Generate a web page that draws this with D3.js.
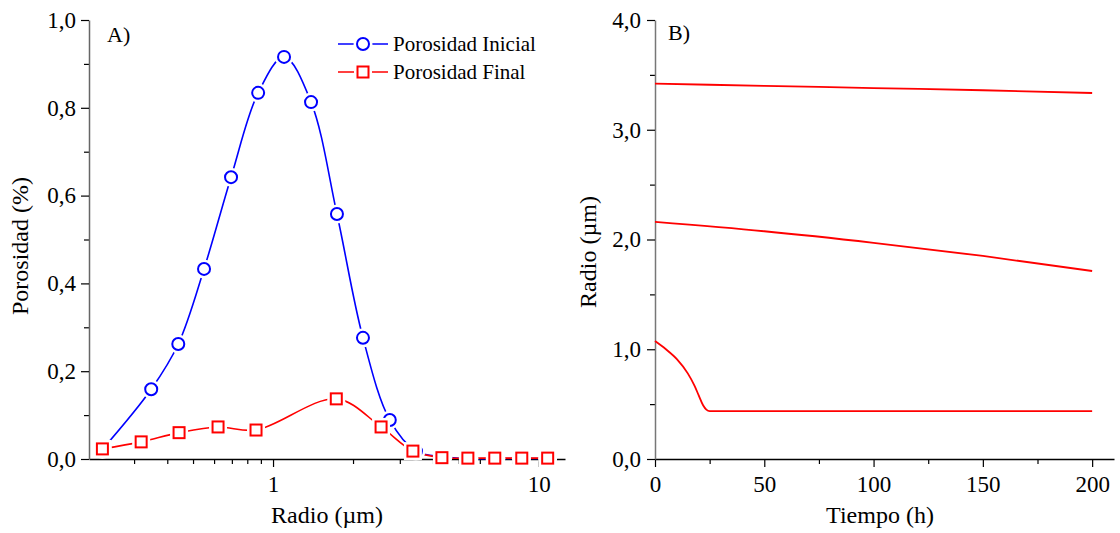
<!DOCTYPE html>
<html>
<head>
<meta charset="utf-8">
<script src="https://cdn.jsdelivr.net/npm/d3@7"></script>
<style>
  body { margin: 0; background: #fff; }
  svg { display: block; font-family: "Liberation Serif", "Times New Roman", serif; }
</style>
</head>
<body>
<svg id="chart" width="1120" height="533"></svg>
<script>
// ---- datos panel A (porosidad vs radio) ----
const radioIni = [0.228, 0.348, 0.44, 0.55, 0.695, 0.879, 1.1, 1.39, 1.74, 2.18, 2.75, 3.45, 4.36, 5.46, 6.9, 8.6, 10.8];
const porIni   = [0.022, 0.159, 0.262, 0.433, 0.642, 0.834, 0.916, 0.813, 0.558, 0.276, 0.089, 0.018, 0.005, 0.001, 0.001, 0.001, 0.001];
const radioFin = [0.228, 0.319, 0.443, 0.621, 0.863, 1.73, 2.55, 3.36, 4.32, 5.41, 6.83, 8.63, 10.8];
const porFin   = [0.023, 0.039, 0.060, 0.073, 0.066, 0.137, 0.073, 0.018, 0.003, 0.002, 0.002, 0.002, 0.002];
const legendA  = ["Porosidad Inicial", "Porosidad Final"];
const yTicksA  = [0, 0.2, 0.4, 0.6, 0.8, 1.0];
const xTicksA  = [1, 10];

// ---- datos panel B (radio vs tiempo) ----
const tTop = [0, 50, 100, 150, 200];
const rTop = [3.42, 3.40, 3.38, 3.36, 3.335];
const tMid = [0, 50, 100, 150, 200];
const rMid = [2.16, 2.075, 1.97, 1.85, 1.713];
const tBot = [0, 5, 10, 15, 18, 20, 22, 23.5, 25, 200];
const rBot = [1.075, 1.0, 0.91, 0.78, 0.67, 0.58, 0.49, 0.45, 0.437, 0.437];
const yTicksB = [0, 1, 2, 3, 4];
const xTicksB = [0, 50, 100, 150, 200];

const svg = d3.select("#chart");
const fmt = d3.format(".1f");
const coma = d => fmt(d).replace(".", ",");
const BLUE = "#0000ff", RED = "#ff0000";

function estiloEje(g, domColor) {
  g.select(".domain").attr("stroke", domColor).attr("stroke-width", 1.5);
  g.selectAll(".tick line").attr("stroke", "#000").attr("stroke-width", 1.2);
  g.selectAll(".tick text").attr("fill", "#000").style("font-size", "23px")
    .style("font-family", "Liberation Serif");
}

// ================= Panel A =================
const xA = d3.scaleLog().domain([0.203, 12.55]).range([89, 565]);
const yA = d3.scaleLinear().domain([0, 1]).range([459, 20]);

// minor ticks
const minorXA = [];
[0.1, 1].forEach(dec => { for (let k = 2; k <= 9; k++) { const v = dec * k; if (v > 0.203 && v < 12.55) minorXA.push(v); } });
const minorYA = [0.1, 0.3, 0.5, 0.7, 0.9];

svg.append("g").attr("transform", "translate(0,459)")
  .call(d3.axisBottom(xA).tickValues(minorXA).tickSize(5).tickFormat(""))
  .call(g => g.select(".domain").remove())
  .selectAll("line").attr("stroke", "#000").attr("stroke-width", 1.2);
svg.append("g").attr("transform", "translate(89,0)")
  .call(d3.axisLeft(yA).tickValues(minorYA).tickSize(5).tickFormat(""))
  .call(g => g.select(".domain").remove())
  .selectAll("line").attr("stroke", "#000").attr("stroke-width", 1.2);

const gxA = svg.append("g").attr("transform", "translate(0,459)")
  .call(d3.axisBottom(xA).tickValues(xTicksA).tickSize(8).tickSizeOuter(0).tickFormat(d3.format("d")));
estiloEje(gxA, "#000");
gxA.selectAll(".tick text").attr("y", 33).attr("dy", 0);

const gyA = svg.append("g").attr("transform", "translate(89,0)")
  .call(d3.axisLeft(yA).tickValues(yTicksA).tickSize(8).tickSizeOuter(0).tickPadding(5).tickFormat(coma));
estiloEje(gyA, "#666");

// lineas
const curva = d3.curveCatmullRom.alpha(0.5);
const lineA = d3.line().x(d => xA(d[0])).y(d => yA(d[1])).curve(curva);
const serieIni = radioIni.map((r, i) => [r, porIni[i]]);
const serieFin = radioFin.map((r, i) => [r, porFin[i]]);

svg.append("path").datum(serieIni).attr("d", lineA)
  .attr("fill", "none").attr("stroke", BLUE).attr("stroke-width", 1.6);
svg.append("path").datum(serieFin).attr("d", lineA)
  .attr("fill", "none").attr("stroke", RED).attr("stroke-width", 1.6);

// marcadores con halo blanco (huecos en la linea como en Origin)
function circulos(g, datos, x, y) {
  g.selectAll(null).data(datos).enter().append("circle")
    .attr("cx", d => x(d[0])).attr("cy", d => y(d[1])).attr("r", 9.5).attr("fill", "#fff");
  g.selectAll(null).data(datos).enter().append("circle")
    .attr("cx", d => x(d[0])).attr("cy", d => y(d[1])).attr("r", 6)
    .attr("fill", "none").attr("stroke", BLUE).attr("stroke-width", 2);
}
function cuadrados(g, datos, x, y) {
  g.selectAll(null).data(datos).enter().append("rect")
    .attr("x", d => x(d[0]) - 9).attr("y", d => y(d[1]) - 9)
    .attr("width", 18).attr("height", 18).attr("fill", "#fff");
  g.selectAll(null).data(datos).enter().append("rect")
    .attr("x", d => x(d[0]) - 5.5).attr("y", d => y(d[1]) - 5.5)
    .attr("width", 11).attr("height", 11)
    .attr("fill", "none").attr("stroke", RED).attr("stroke-width", 2);
}
circulos(svg.append("g"), serieIni, xA, yA);
cuadrados(svg.append("g"), serieFin, xA, yA);

// leyenda
const leg = svg.append("g");
[0, 1].forEach(i => {
  const ly = 44 + i * 28;
  const col = i === 0 ? BLUE : RED;
  leg.append("line").attr("x1", 338).attr("x2", 388).attr("y1", ly).attr("y2", ly)
    .attr("stroke", col).attr("stroke-width", 1.6);
  const fake = (v) => v;
  if (i === 0) circulos(leg, [[363, ly]], fake, fake);
  else cuadrados(leg, [[363, ly]], fake, fake);
  leg.append("text").attr("x", 393).attr("y", ly + 7)
    .style("font-size", "21px").text(legendA[i]);
});

svg.append("text").attr("x", 107).attr("y", 42).style("font-size", "22px").text("A)");
svg.append("text").attr("x", 327).attr("y", 523).attr("text-anchor", "middle")
  .style("font-size", "24px").text("Radio (\u00b5m)");
svg.append("text").attr("transform", "translate(28,246) rotate(-90)").attr("text-anchor", "middle")
  .style("font-size", "24px").text("Porosidad (%)");

// ================= Panel B =================
const xB = d3.scaleLinear().domain([0, 210]).range([655, 1114]);
const yB = d3.scaleLinear().domain([0, 4]).range([459, 20]);

svg.append("g").attr("transform", "translate(0,459)")
  .call(d3.axisBottom(xB).tickValues([25, 75, 125, 175]).tickSize(5).tickFormat(""))
  .call(g => g.select(".domain").remove())
  .selectAll("line").attr("stroke", "#000").attr("stroke-width", 1.2);
svg.append("g").attr("transform", "translate(655,0)")
  .call(d3.axisLeft(yB).tickValues([0.5, 1.5, 2.5, 3.5]).tickSize(5).tickFormat(""))
  .call(g => g.select(".domain").remove())
  .selectAll("line").attr("stroke", "#000").attr("stroke-width", 1.2);

const gxB = svg.append("g").attr("transform", "translate(0,459)")
  .call(d3.axisBottom(xB).tickValues(xTicksB).tickSize(8).tickSizeOuter(0).tickFormat(d3.format("d")));
estiloEje(gxB, "#000");
gxB.selectAll(".tick text").attr("y", 33).attr("dy", 0);

const gyB = svg.append("g").attr("transform", "translate(655,0)")
  .call(d3.axisLeft(yB).tickValues(yTicksB).tickSize(8).tickSizeOuter(0).tickPadding(6).tickFormat(coma));
estiloEje(gyB, "#777");

const lineB = d3.line().x(d => xB(d[0])).y(d => yB(d[1])).curve(d3.curveMonotoneX);
[[tTop, rTop], [tMid, rMid], [tBot, rBot]].forEach(([ts, rs]) => {
  svg.append("path").datum(ts.map((t, i) => [t, rs[i]])).attr("d", lineB)
    .attr("fill", "none").attr("stroke", RED).attr("stroke-width", 1.8);
});

svg.append("text").attr("x", 668).attr("y", 40).style("font-size", "22px").text("B)");
svg.append("text").attr("x", 880).attr("y", 523).attr("text-anchor", "middle")
  .style("font-size", "24px").text("Tiempo (h)");
svg.append("text").attr("transform", "translate(596,252) rotate(-90)").attr("text-anchor", "middle")
  .style("font-size", "24px").text("Radio (\u00b5m)");
</script>
</body>
</html>
